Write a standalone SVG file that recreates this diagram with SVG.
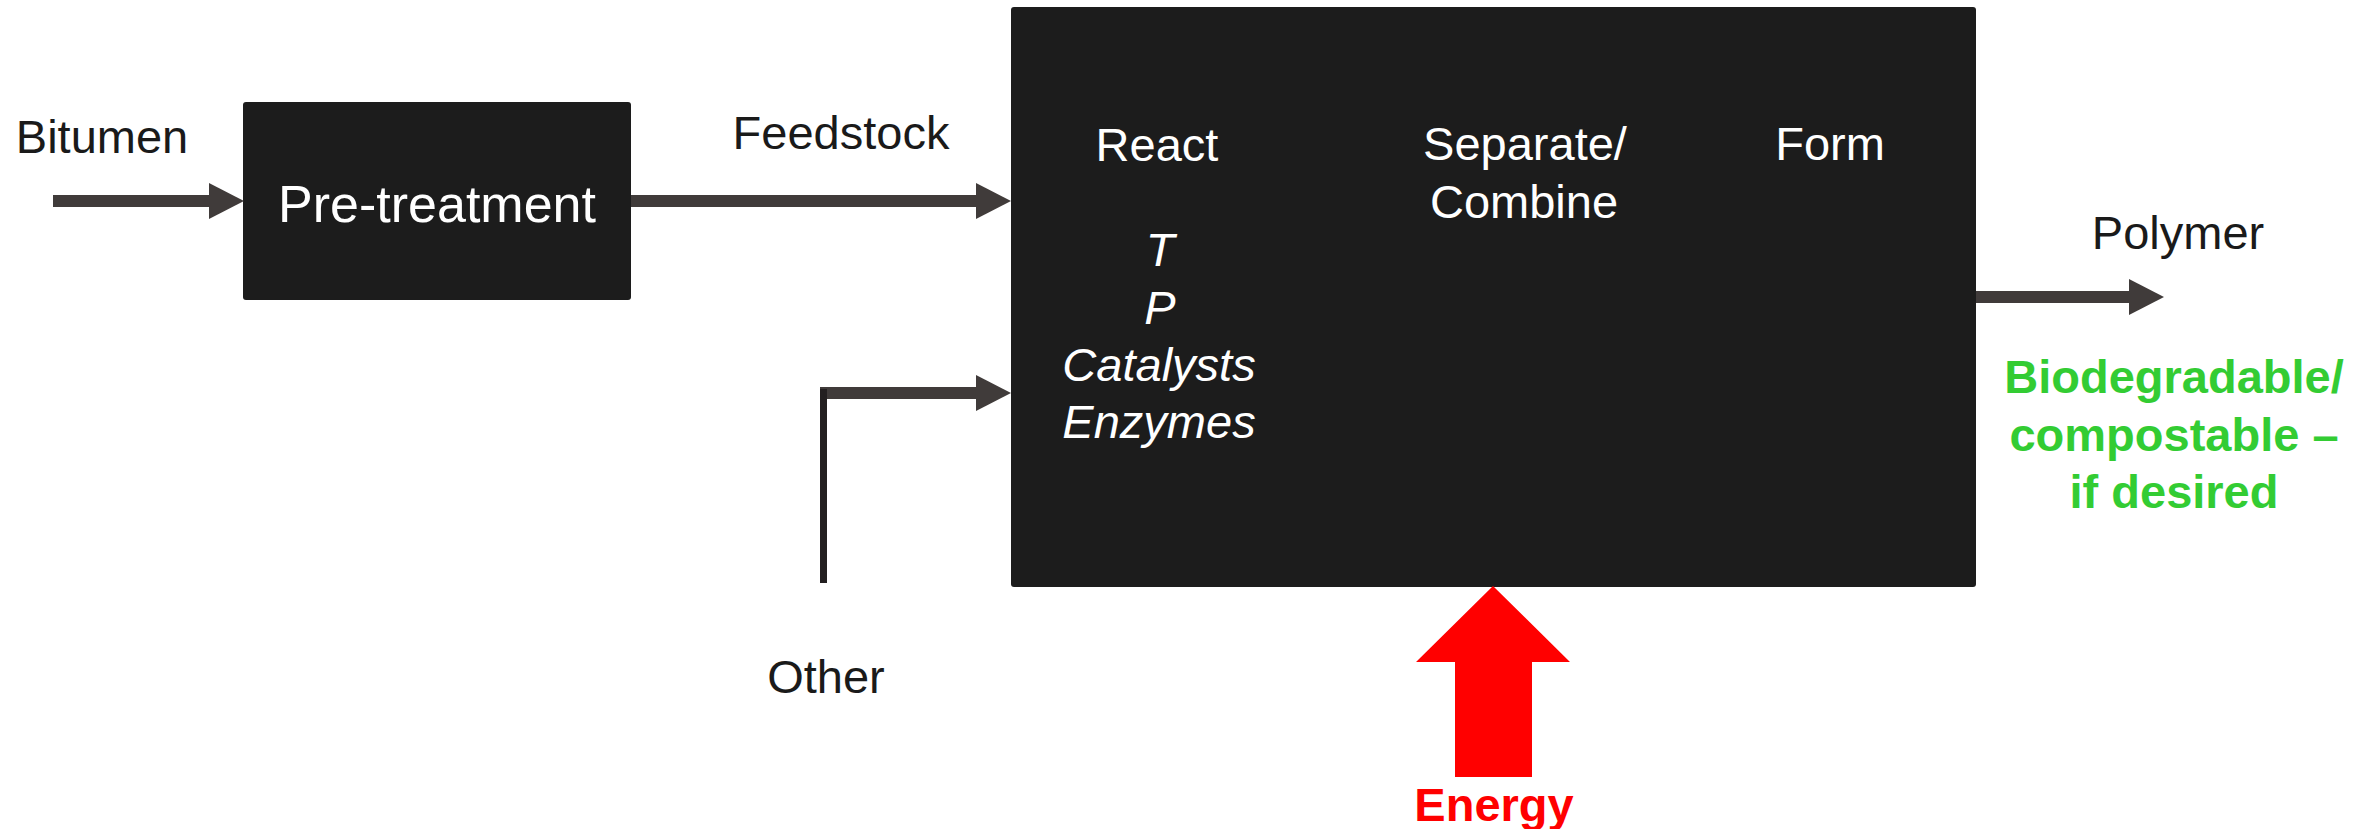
<svg xmlns="http://www.w3.org/2000/svg" width="2374" height="829" viewBox="0 0 2374 829">
  <style>
    .lbl { font-family: "Liberation Sans", Arial, sans-serif; font-size: 47px; fill: #1a1a1a; text-anchor: middle; }
    .in { font-family: "Liberation Sans", Arial, sans-serif; font-size: 47px; fill: #ffffff; text-anchor: middle; }
    .it { font-style: italic; }
    .box { fill: #1c1c1c; }
    .flow { stroke: #403b3a; stroke-width: 12; fill: none; marker-end: url(#head); }
    .green { font-family: "Liberation Sans", Arial, sans-serif; font-size: 47px; font-weight: bold; fill: #33cc33; text-anchor: middle; }
    .red { font-family: "Liberation Sans", Arial, sans-serif; font-size: 47px; font-weight: bold; fill: #ff0000; text-anchor: middle; }
  </style>
  <defs>
    <marker id="head" markerUnits="userSpaceOnUse" markerWidth="36" markerHeight="36" refX="0" refY="18" orient="auto">
      <path d="M0,0 L35,18 L0,36 z" fill="#403b3a"/>
    </marker>
  </defs>

  <rect width="2374" height="829" fill="#ffffff"/>

  <!-- free-standing labels -->
  <text class="lbl" x="102" y="153">Bitumen</text>
  <text class="lbl" x="841" y="149">Feedstock</text>
  <text class="lbl" x="826" y="693">Other</text>
  <text class="lbl" x="2178" y="249">Polymer</text>
  <g id="property-note">
    <text class="green" x="2174" y="393">Biodegradable/</text>
    <text class="green" x="2174" y="451">compostable –</text>
    <text class="green" x="2174" y="508">if desired</text>
  </g>

  <!-- process blocks -->
  <g id="pretreatment">
    <rect class="box" x="243" y="102" width="388" height="198" rx="3"/>
    <text class="in" x="437" y="222" style="font-size:52px">Pre-treatment</text>
  </g>

  <g id="process">
    <rect class="box" x="1011" y="7" width="965" height="580" rx="3"/>
    <text class="in" x="1157" y="161">React</text>
    <text class="in it" x="1160" y="266">T</text>
    <text class="in it" x="1160" y="324">P</text>
    <text class="in it" x="1159" y="381">Catalysts</text>
    <text class="in it" x="1159" y="438">Enzymes</text>
    <text class="in" x="1525" y="160">Separate/</text>
    <text class="in" x="1524" y="218">Combine</text>
    <text class="in" x="1830" y="160">Form</text>
  </g>

  <!-- connectors -->
  <g id="connectors">
    <line class="flow" x1="53" y1="201" x2="209" y2="201"/>
    <line class="flow" x1="631" y1="201" x2="976" y2="201"/>
    <line class="flow" x1="820" y1="393" x2="976" y2="393"/>
    <rect x="820" y="389" width="7" height="194" fill="#231f20"/>
    <line class="flow" x1="1976" y1="297" x2="2129" y2="297"/>
    <polygon points="1493,586 1570,662 1532,662 1532,777 1455,777 1455,662 1416,662" fill="#ff0000"/>
  </g>

  <text class="red" x="1494" y="821">Energy</text>
</svg>
